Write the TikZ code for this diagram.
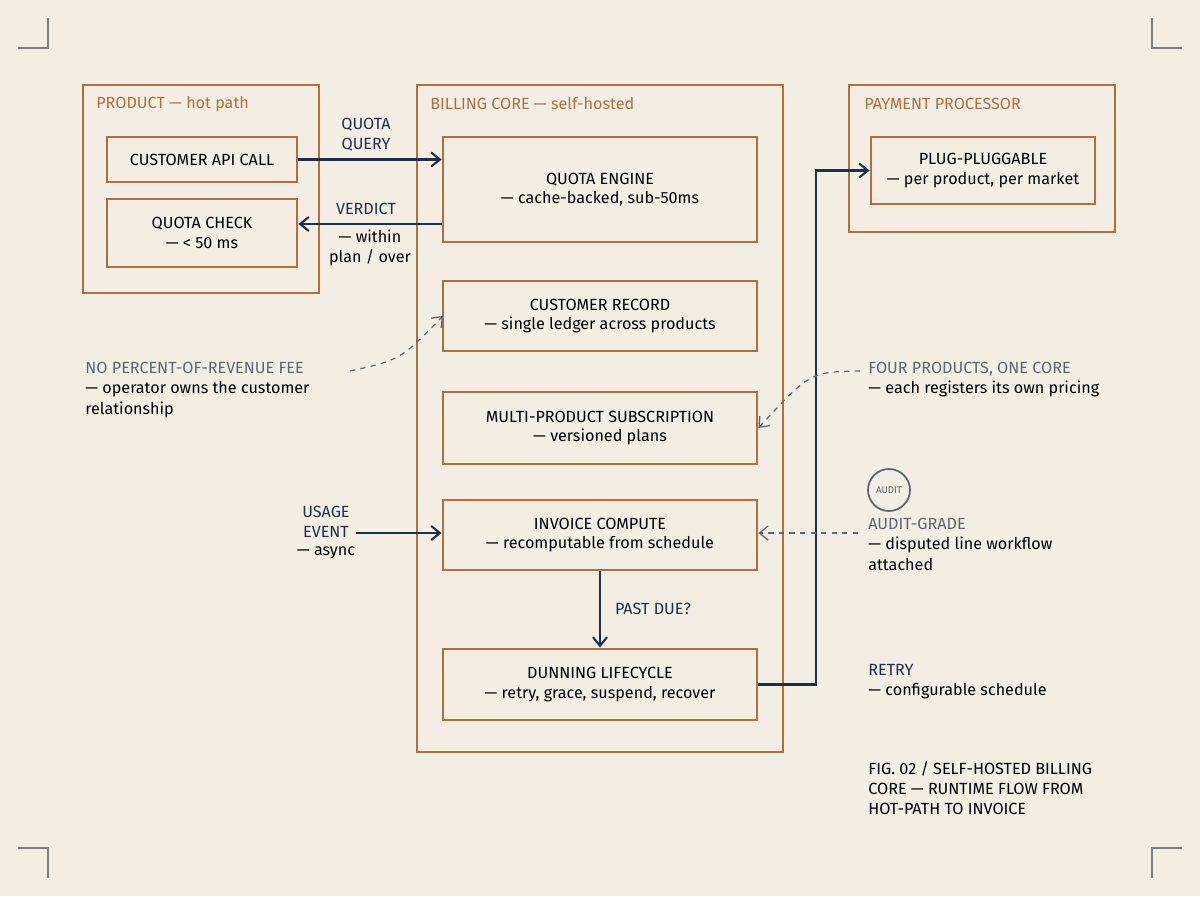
\documentclass[tikz,border=0pt]{standalone}
\usepackage{fontspec}
\setmainfont{Fira Sans}
\usetikzlibrary{arrows.meta,positioning}
\definecolor{paper}{HTML}{F3EEE3}
\definecolor{rust}{HTML}{B26F38}
\definecolor{ink}{HTML}{1F2E4F}
\definecolor{slate}{HTML}{5E6472}
\tikzset{
  frame/.style={draw=rust, line width=1.6pt, rectangle},
  card/.style={frame, align=center, font=\fontsize{9.2}{11}\selectfont, text=black},
  flow/.style={draw=ink, line width=1.2pt, -{Straight Barb[length=5pt,width=8pt]}},
  hint/.style={draw=slate, dashed, line width=0.7pt, -{Straight Barb[length=5pt,width=8pt]}},
  note/.style={align=left, anchor=north west, font=\fontsize{9.2}{11.5}\selectfont, inner sep=0pt}
}
\begin{document}
\begin{tikzpicture}[x=0.02cm, y=-0.02cm]

    % Paper and crop marks
    \fill[paper] (0,0) rectangle (1200,896);
    \useasboundingbox (0,0) rectangle (1200,896);
    \foreach \x/\s in {48/1, 1152/-1} {
        \draw[gray, line width=0.8pt] (\x,18) -- (\x,48) -- (\x-30*\s,48);
        \draw[gray, line width=0.8pt] (\x,878) -- (\x,848) -- (\x-30*\s,848);
    }

    % Outer groups
    \draw[frame] (83,85) rectangle (319,293);
    \draw[frame] (417,85) rectangle (783,752);
    \draw[frame] (849,85) rectangle (1115,232);
    \node[note, text=rust, anchor=west] (prodlbl) at (96,104) {PRODUCT — hot path};
    \node[note, text=rust, anchor=west] (corelbl) at (430,104) {BILLING CORE — self-hosted};
    \node[note, text=rust, anchor=west] (paylbl) at (864,104) {PAYMENT PROCESSOR};

    % Product side
    \node[card, minimum width=3.8cm, minimum height=0.9cm] (apicall) at (202,159.5) {CUSTOMER API CALL};
    \node[card, minimum width=3.8cm, minimum height=1.36cm] (check) at (202,233) {QUOTA CHECK\\— < 50 ms};

    % Billing core
    \node[card, minimum width=6.28cm, minimum height=2.1cm] (engine) at (600,189.5) {QUOTA ENGINE\\— cache-backed, sub-50ms};
    \node[card, minimum width=6.28cm, minimum height=1.4cm] (record) at (600,316) {CUSTOMER RECORD\\— single ledger across products};
    \node[card, minimum width=6.28cm, minimum height=1.44cm] (subs) at (600,428) {MULTI-PRODUCT SUBSCRIPTION\\— versioned plans};
    \node[card, minimum width=6.28cm, minimum height=1.4cm] (invoice) at (600,535) {INVOICE COMPUTE\\— recomputable from schedule};
    \node[card, minimum width=6.28cm, minimum height=1.42cm] (dunning) at (600,684.5) {DUNNING LIFECYCLE\\— retry, grace, suspend, recover};

    % Payment processor
    \node[card, minimum width=4.48cm, minimum height=1.34cm] (plug) at (983,170.5) {PLUG-PLUGGABLE\\— per product, per market};

    % Runtime flow
    \draw[flow] (apicall.east) -- (apicall.east -| engine.west);
    \node[note, anchor=center, align=center, text=ink] (query) at (366,135) {QUOTA\\QUERY};
    \draw[flow] (engine.west |- 0,224) coordinate (vstart) -- (vstart -| check.east);
    \node[note, anchor=center, text=ink] (verdict) at (366,209) {VERDICT};
    \node[note, anchor=center, align=center] (within) at (370,248) {— within\\plan / over};

    \node[note, anchor=center, align=center, text=ink] (usage) at (326,522) {USAGE\\EVENT};
    \node[note, anchor=center] (async) at (326,553) {— async};
    \coordinate (usagetail) at (356,533);
    \draw[flow] (usagetail) -- (usagetail -| invoice.west);

    \draw[flow] (invoice.south) -- (dunning.north);
    \node[note, anchor=center, text=ink] (pastdue) at (653,609) {PAST DUE?};

    \draw[flow] (dunning.east) -- ++(58,0) |- (plug.west);

    % Side notes
    \node[note] (nofee) at (85,362) {\textcolor{slate}{NO PERCENT-OF-REVENUE FEE}\\— operator owns the customer\\relationship};
    \coordinate (nofeetail) at (350,371);
    \draw[hint] (nofeetail) .. controls (400,360) .. (443,316);

    \node[note] (four) at (868,362) {\textcolor{slate}{FOUR PRODUCTS, ONE CORE}\\— each registers its own pricing};
    \coordinate (fourtail) at (860,371);
    \draw[hint] (fourtail) .. controls (810,372) .. (subs.east);

    \node[draw=slate, circle, line width=1pt, minimum size=0.84cm, inner sep=0pt, font=\fontsize{5.5}{6}\selectfont, text=slate] (audit) at (889,490) {AUDIT};
    \node[note] (grade) at (868,518) {\textcolor{slate}{AUDIT-GRADE}\\— disputed line workflow\\attached};
    \coordinate (gradetail) at (858,533);
    \draw[hint] (gradetail) -- (gradetail -| invoice.east);

    \node[note] (retry) at (868,664) {\textcolor{ink}{RETRY}\\— configurable schedule};

    % Caption
    \node[note] (caption) at (868,761) {FIG. 02 / SELF-HOSTED BILLING\\CORE — RUNTIME FLOW FROM\\HOT-PATH TO INVOICE};
\end{tikzpicture}
\end{document}
